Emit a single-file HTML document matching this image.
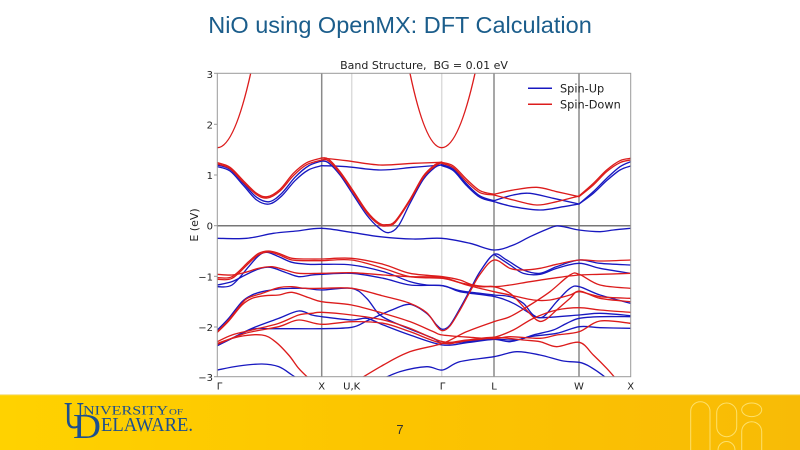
<!DOCTYPE html>
<html><head><meta charset="utf-8"><style>
html,body{margin:0;padding:0;background:#fff;width:800px;height:450px;overflow:hidden}
svg{display:block}
</style></head><body>
<svg width="800" height="450" viewBox="0 0 800 450" xmlns="http://www.w3.org/2000/svg">
<defs>
<linearGradient id="yb" x1="0" y1="0" x2="1" y2="0">
<stop offset="0" stop-color="#ffd200"/><stop offset="0.5" stop-color="#fcc400"/><stop offset="1" stop-color="#f8bb06"/>
</linearGradient>
<clipPath id="pc"><rect x="217.3" y="73.3" width="413.4" height="303.4"/></clipPath>
</defs>
<rect width="800" height="450" fill="#fff"/>
<text x="400" y="33" text-anchor="middle" font-family="Liberation Sans, sans-serif" font-size="23.5" fill="#1b5d8b">NiO using OpenMX: DFT Calculation</text>

<!-- yellow band -->
<rect x="0" y="395" width="800" height="55" fill="url(#yb)"/>
<rect x="0" y="394" width="800" height="1.2" fill="#f6e7a6"/>
<g fill="none" stroke="#fde06a" stroke-width="1">
<rect x="690.7" y="401.7" width="19.3" height="60" rx="9.6"/>
<rect x="716.7" y="403" width="20" height="33.7" rx="10"/>
<ellipse cx="751.7" cy="409.8" rx="10" ry="6.8"/>
<rect x="741.7" y="421.7" width="20" height="40" rx="10"/>
<circle cx="726.5" cy="450" r="8.5"/>
</g>

<!-- logo -->
<g font-family="Liberation Serif, serif" fill="#1c4f8f">
<text x="64" y="428" font-size="38" textLength="20" lengthAdjust="spacingAndGlyphs">U</text>
<text x="83" y="414.5" font-size="13" textLength="85" lengthAdjust="spacingAndGlyphs">NIVERSITY</text>
<text x="169" y="414.5" font-size="8.5" textLength="14" lengthAdjust="spacingAndGlyphs">OF</text>
<text x="73" y="438" font-size="35" textLength="28" lengthAdjust="spacingAndGlyphs">D</text>
<text x="101" y="431" font-size="19.5" textLength="92" lengthAdjust="spacingAndGlyphs">ELAWARE.</text>
</g>
<text x="400" y="434" text-anchor="middle" font-family="Liberation Sans, sans-serif" font-size="13" fill="#333">7</text>

<!-- chart -->
<g stroke-width="1.5">
<line x1="321.7" y1="73.3" x2="321.7" y2="376.7" stroke="#8a8a8a"/>
<line x1="351.7" y1="73.3" x2="351.7" y2="376.7" stroke="#dcdcdc"/>
<line x1="441.7" y1="73.3" x2="441.7" y2="376.7" stroke="#dcdcdc"/>
<line x1="494" y1="73.3" x2="494" y2="376.7" stroke="#8a8a8a"/>
<line x1="579" y1="73.3" x2="579" y2="376.7" stroke="#8a8a8a"/>
<line x1="217.3" y1="225.7" x2="630.7" y2="225.7" stroke="#777"/>
</g>

<g clip-path="url(#pc)">
<g id="bands" transform="translate(180 220) scale(0.333333)" fill="none" stroke-width="4" stroke-linejoin="round" stroke-linecap="round">
<g stroke="#1818c0">
<polyline points="112,-165 150,-152 190,-110 230,-68 268,-55 305,-80 345,-128 385,-162 425,-177"/>
<polyline points="112,-160 150,-147 190,-104 230,-60 268,-48 305,-72 345,-118 385,-150 425,-163"/>
<polyline points="425,-163 500,-160 600,-150 700,-158 785,-165"/>
<polyline points="425,-177 445,-172 480,-135 520,-75 560,-15 595,22 625,38 655,18 690,-50 730,-122 765,-158 785,-166"/>
<polyline points="785,-166 820,-152 860,-108 900,-72 942,-58"/>
<polyline points="785,-163 820,-148 860,-103 900,-68 942,-55"/>
<polyline points="942,-58 1000,-75 1050,-80 1120,-65 1197,-48"/>
<polyline points="942,-55 1000,-40 1080,-30 1150,-40 1197,-48"/>
<polyline points="1197,-48 1240,-85 1280,-125 1320,-160 1352,-175"/>
<polyline points="1197,-48 1240,-80 1280,-118 1320,-150 1352,-162"/>
<polyline points="112,55 200,55 280,40 350,33 425,25 520,38 600,50 700,57 785,55 870,70 942,90 1000,75 1050,50 1100,28 1130,18 1160,22 1197,30 1260,35 1300,30 1352,25"/>
<polyline points="112,200 156,195 206,140 236,107 261,97 296,110 336,127 386,133 425,133 515,135 610,155 690,185 740,195 788,197 840,212 900,220 942,225 990,230 1030,250 1060,285 1090,290 1130,245 1170,205 1198,200 1260,225 1352,250"/>
<polyline points="112,195 156,185 196,165 236,147 271,142 316,157 356,170 396,165 425,163 515,160 610,175 690,195 788,197 840,215 945,230 1000,250 1050,280 1080,293 1198,285 1260,280 1352,287"/>
<polyline points="112,330 146,295 186,245 216,225 246,215 296,207 336,205 376,205 425,210 515,205 560,235 600,285 660,315 760,355 788,370 860,365 942,358 990,365 1050,350 1130,340 1198,320 1260,323 1352,325"/>
<polyline points="112,377 156,355 216,325 296,295 356,273 396,285 425,290 515,300 560,295 610,315 690,345 788,375 860,368 942,358 1010,360 1060,345 1120,330 1160,310 1198,295 1260,290 1352,290"/>
<polyline points="112,377 156,355 216,328 276,326 425,326 515,322 560,303 600,285 640,268 690,253 740,280 770,315 788,328 810,315 840,265 870,210 900,155 942,103 980,120 1030,150 1080,160 1130,140 1198,120 1260,130 1352,135"/>
<polyline points="942,103 990,135 1030,160 1080,163 1130,145 1198,130 1260,145 1352,160"/>
<polyline points="112,450 176,438 246,432 296,440 336,465 366,485"/>
<polyline points="590,485 660,455 740,440 788,450 840,425 942,410 1010,395 1080,405 1150,423 1198,427 1230,440 1280,475 1310,505"/>
</g>
<g stroke="#dc1c1c">
<path d="M112,-217 Q162,-217 212,-440"/>
<path d="M690,-440 Q737,-217 785,-217 Q835,-217 885,-440"/>
<polyline points="112,-172 150,-158 190,-118 230,-80 262,-70 300,-92 340,-140 380,-172 425,-186"/>
<polyline points="112,-168 150,-154 190,-113 230,-76 262,-66 300,-87 340,-133 380,-166 425,-180"/>
<polyline points="425,-186 500,-178 600,-165 700,-170 785,-173"/>
<polyline points="425,-180 445,-178 480,-140 520,-82 560,-22 595,12 618,18 645,8 690,-58 730,-128 765,-162 785,-172"/>
<polyline points="425,-186 445,-183 480,-145 520,-87 560,-27 595,8 618,14 645,4 690,-62 730,-132 765,-166 785,-174"/>
<polyline points="785,-173 820,-162 860,-122 900,-88 942,-77"/>
<polyline points="785,-170 820,-157 860,-115 900,-82 942,-75"/>
<polyline points="942,-77 1000,-90 1070,-98 1130,-85 1197,-70"/>
<polyline points="942,-75 1000,-60 1070,-45 1130,-55 1197,-72"/>
<polyline points="1197,-72 1240,-110 1280,-150 1320,-178 1352,-185"/>
<polyline points="1197,-70 1240,-105 1280,-145 1320,-172 1352,-180"/>
<polyline points="112,173 156,170 206,125 236,100 266,93 296,100 336,115 386,117 425,117 515,115 610,133 690,160 788,170 840,180 880,195 942,200 990,195 1050,185 1130,173 1198,165 1260,163 1352,160"/>
<polyline points="112,178 156,175 206,130 236,104 266,96 296,104 336,120 386,122 425,122 515,120 610,145 690,170 788,175 840,188 900,200 942,200 990,220 1030,260 1070,300 1095,300 1130,270 1170,235 1198,213 1260,235 1352,245"/>
<polyline points="112,163 156,165 196,157 236,145 276,140 316,150 356,160 425,160 515,158 610,165 690,170 788,173 860,195 942,215 990,225 1060,240 1110,240 1170,225 1198,215 1260,230 1352,235"/>
<polyline points="112,335 146,300 186,250 206,233 246,220 296,203 336,200 376,205 425,205 515,205 610,228 690,250 740,278 770,318 788,332 810,318 840,270 870,215 900,163 942,120 990,145 1030,150 1080,145 1130,133 1198,120 1260,123 1352,120"/>
<polyline points="112,337 146,303 186,255 216,235 256,227 296,225 336,217 386,233 425,245 515,255 610,280 690,305 760,335 788,345 870,352 942,356 990,350 1080,355 1130,345 1198,335 1260,303 1352,310"/>
<polyline points="112,365 156,345 216,330 296,310 356,285 396,280 425,277 515,285 610,300 690,325 788,365 860,360 942,352 1030,360 1080,365 1130,380 1198,367 1240,405 1280,445 1315,485"/>
<polyline points="112,373 196,340 296,320 356,300 425,313 515,305 610,310 690,335 788,370 860,362 942,352 1000,330 1060,295 1130,270 1198,263 1260,270 1352,277"/>
<polyline points="112,370 176,350 246,345 286,365 326,405 356,445 386,475"/>
<polyline points="510,495 610,435 690,395 788,370 860,335 942,305 990,290 1050,255 1110,215 1170,165 1198,163 1260,195 1352,205"/>
</g>
</g>
</g>

<rect x="217.3" y="73.3" width="413.4" height="303.4" fill="none" stroke="#999" stroke-width="1"/>
<g stroke="#999" stroke-width="1">
<line x1="214" y1="73.3" x2="217.3" y2="73.3"/>
<line x1="214" y1="124.3" x2="217.3" y2="124.3"/>
<line x1="214" y1="175" x2="217.3" y2="175"/>
<line x1="214" y1="225.7" x2="217.3" y2="225.7"/>
<line x1="214" y1="276.3" x2="217.3" y2="276.3"/>
<line x1="214" y1="327" x2="217.3" y2="327"/>
<line x1="214" y1="376.7" x2="217.3" y2="376.7"/>
</g>
<g font-family="DejaVu Sans, sans-serif" font-size="10" fill="#222" text-anchor="end">
<text x="213" y="78">3</text>
<text x="213" y="128.5">2</text>
<text x="213" y="179">1</text>
<text x="213" y="229.5">0</text>
<text x="213" y="280.5">−1</text>
<text x="213" y="331">−2</text>
<text x="213" y="381">−3</text>
</g>
<g font-family="DejaVu Sans, sans-serif" font-size="10" fill="#222" text-anchor="middle">
<text x="219.5" y="389.5">Γ</text>
<text x="321.7" y="389.5">X</text>
<text x="351.7" y="389.5">U,K</text>
<text x="442.5" y="389.5">Γ</text>
<text x="494" y="389.5">L</text>
<text x="579" y="389.5">W</text>
<text x="630.7" y="389.5">X</text>
</g>
<text transform="translate(198 225) rotate(-90)" text-anchor="middle" font-family="DejaVu Sans, sans-serif" font-size="11" fill="#222">E (eV)</text>
<text x="424" y="69" text-anchor="middle" font-family="DejaVu Sans, sans-serif" font-size="11" fill="#222" style="white-space:pre">Band Structure,  BG = 0.01 eV</text>

<line x1="528" y1="88.3" x2="552" y2="88.3" stroke="#1818c0" stroke-width="1.5"/>
<line x1="528" y1="104.3" x2="552" y2="104.3" stroke="#dc1c1c" stroke-width="1.5"/>
<g font-family="DejaVu Sans, sans-serif" font-size="11.3" fill="#222">
<text x="560" y="92.3">Spin-Up</text>
<text x="560" y="108.3">Spin-Down</text>
</g>
</svg>
<script>
(function(){
  var NS="http://www.w3.org/2000/svg";
  var pls=document.querySelectorAll('#bands polyline');
  for(var k=0;k<pls.length;k++){
    var pl=pls[k];
    var nums=pl.getAttribute('points').trim().split(/[\s,]+/).map(Number);
    var p=[];for(var i=0;i<nums.length;i+=2)p.push([nums[i],nums[i+1]]);
    if(p.length<3)continue;
    var d="M"+p[0][0]+","+p[0][1];
    for(var i=0;i<p.length-1;i++){
      var p0=p[i-1]||p[i],p1=p[i],p2=p[i+1],p3=p[i+2]||p[i+1];
      var c1x=p1[0]+(p2[0]-p0[0])/6,c1y=p1[1]+(p2[1]-p0[1])/6;
      var c2x=p2[0]-(p3[0]-p1[0])/6,c2y=p2[1]-(p3[1]-p1[1])/6;
      d+=" C"+c1x.toFixed(1)+","+c1y.toFixed(1)+" "+c2x.toFixed(1)+","+c2y.toFixed(1)+" "+p2[0]+","+p2[1];
    }
    var path=document.createElementNS(NS,'path');
    path.setAttribute('d',d);
    pl.parentNode.replaceChild(path,pl);
  }
})();
</script>
</body></html>
